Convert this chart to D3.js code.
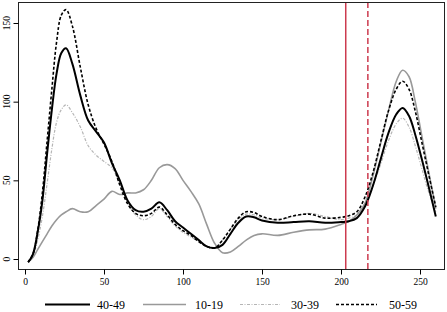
<!DOCTYPE html>
<html>
<head>
<meta charset="utf-8">
<script src="https://cdn.jsdelivr.net/npm/d3@7"></script>
<style>
  body { margin: 0; background: #fff; }
  svg text { font-family: "Liberation Serif", "DejaVu Serif", serif; fill: #000; }
</style>
</head>
<body>
<div id="plot"></div>
<script>
// sample positions along x (shared by all series)
const xs = [2, 5, 8, 11, 14, 17, 20, 23, 26, 30, 35, 40, 45, 50, 55, 60, 65, 70, 75, 80,
  85, 90, 95, 100, 105, 110, 115, 120, 125, 130, 135, 140, 145, 150, 160, 170, 180, 190, 200,
  205, 210, 215, 220, 225, 230, 235, 239, 243, 247, 251, 255, 260]

const s4049 = [-2, 3, 17, 37, 67, 95, 118, 131, 134, 124, 104, 88, 81, 74, 61, 50, 37, 31, 30, 32,
  36, 31, 24, 20, 16, 12, 8, 7, 9, 16, 23, 27, 26.5, 24.5, 23, 23.5, 24, 23, 23.5,
  24, 26, 33, 46, 63, 80, 92, 96, 91, 79, 64, 48, 27]

const s1019 = [-2, 1, 6, 11, 16, 21, 25, 28, 30, 32, 30, 30, 34, 38, 43, 41, 42, 42, 44, 50,
  58, 60, 57.5, 50, 43, 35, 22, 10, 4, 4.5, 8, 12, 15, 16, 15, 17, 18.5, 19, 22,
  24, 28, 35, 52, 73, 94, 113, 120, 116, 100, 79, 58, 32]

const s3039 = [-2, 2, 12, 27, 48, 70, 87, 95, 98, 93, 84, 72, 66, 62, 58, 48, 36, 28, 25, 27,
  32, 27, 21, 17, 14, 11, 8, 7, 12, 19, 25, 28.5, 28, 26, 25, 27, 29, 27, 25,
  26, 28, 35, 46, 60, 75, 86, 89.5, 84, 72, 58, 44, 30]

const s5059 = [-2, 3, 18, 42, 75, 108, 138, 155, 158.5, 148, 122, 98, 83, 73, 62, 47, 35, 29, 27.5, 29,
  33, 28, 22, 18, 15, 11, 8, 7, 12, 19, 26, 30, 29.5, 27, 25, 27.5, 28.5, 26, 26.5,
  27.5, 30, 39, 54, 74, 94, 108, 113, 108, 94, 75, 56, 33]

const xTicks = [0, 50, 100, 150, 200, 250]
const yTicks = [0, 50, 100, 150]
const vLines = [203, 217]   // solid, dashed

const series = [
  {name: "40-49", values: s4049, color: "#000", width: 2, dash: null},
  {name: "10-19", values: s1019, color: "#999", width: 1.6, dash: null},
  {name: "30-39", values: s3039, color: "#b5b5b5", width: 1.2, dash: "3,1.5,1,1.5"},
  {name: "50-59", values: s5059, color: "#000", width: 1.6, dash: "3,2"}
]

const W = 447, H = 312,
    box = {left: 18, right: 444, top: 2, bottom: 269},
    x = d3.scaleLinear().domain([0, 250]).range([25, 420]),
    y = d3.scaleLinear().domain([0, 150]).range([259, 23])

const svg = d3.select("#plot").append("svg")
  .attr("width", W)
  .attr("height", H)

// plot lines
const line = d3.line()
  .x((d, i) => x(xs[i]))
  .y(d => y(d))
  .curve(d3.curveCatmullRom)

// draw in back-to-front order
const order = ["30-39", "10-19", "50-59", "40-49"]
order.forEach(n => {
  const s = series.find(o => o.name === n)
  svg.append("path")
    .datum(s.values)
    .attr("fill", "none")
    .attr("stroke", s.color)
    .attr("stroke-width", s.width)
    .attr("stroke-dasharray", s.dash)
    .attr("d", line)
})

// red reference lines
vLines.forEach((v, i) => {
  svg.append("line")
    .attr("x1", x(v)).attr("x2", x(v))
    .attr("y1", box.top).attr("y2", box.bottom)
    .attr("stroke", "#cc3b4f")
    .attr("stroke-width", 1.5)
    .attr("stroke-dasharray", i === 1 ? "6,3" : null)
})

// box
svg.append("rect")
  .attr("x", box.left + 0.5)
  .attr("y", box.top + 0.5)
  .attr("width", box.right - box.left)
  .attr("height", box.bottom - box.top)
  .attr("fill", "none")
  .attr("stroke", "#222")
  .attr("stroke-width", 1)

// x axis
const xAxis = svg.append("g")
  .attr("transform", `translate(0, ${box.bottom + 0.5})`)
  .call(d3.axisBottom(x).tickValues(xTicks).tickSize(5).tickPadding(4))
xAxis.select(".domain").remove()
xAxis.selectAll("text").style("font-size", "9.5px").style("font-family", "Liberation Serif")

// y axis
const yAxis = svg.append("g")
  .attr("transform", `translate(${box.left + 0.5}, 0)`)
  .call(d3.axisLeft(y).tickValues(yTicks).tickSize(5).tickPadding(0))
yAxis.select(".domain").remove()
yAxis.selectAll("text").remove()
yTicks.forEach(t => {
  svg.append("text")
    .attr("transform", `translate(10, ${y(t)}) rotate(-90)`)
    .attr("text-anchor", "middle")
    .style("font-size", "9.5px")
    .text(t)
})

// legend
const legend = [
  {name: "40-49", x1: 45, x2: 90, tx: 97},
  {name: "10-19", x1: 143, x2: 186, tx: 195},
  {name: "30-39", x1: 240, x2: 280, tx: 291},
  {name: "50-59", x1: 336, x2: 377, tx: 389}
]
legend.forEach(l => {
  const s = series.find(o => o.name === l.name)
  svg.append("line")
    .attr("x1", l.x1).attr("x2", l.x2)
    .attr("y1", 304.5).attr("y2", 304.5)
    .attr("stroke", s.color)
    .attr("stroke-width", s.width)
    .attr("stroke-dasharray", s.dash)
  svg.append("text")
    .attr("x", l.tx)
    .attr("y", 308.5)
    .style("font-size", "12px")
    .text(l.name)
})
</script>
</body>
</html>
